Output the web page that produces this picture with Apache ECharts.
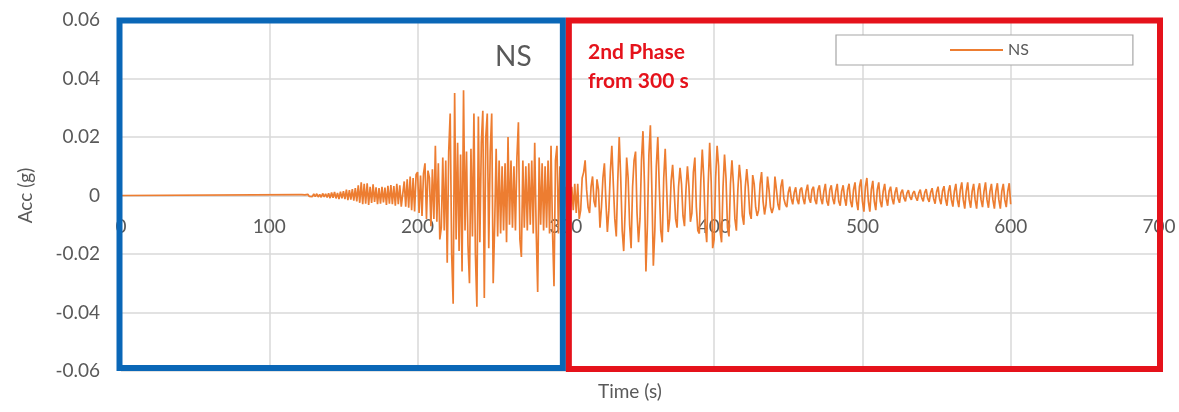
<!DOCTYPE html>
<html>
<head>
<meta charset="utf-8">
<script src="https://cdn.jsdelivr.net/npm/echarts@6/dist/echarts.min.js"></script>
<style>
html,body{margin:0;padding:0;background:#fff;}
#chart{width:1179px;height:412px;}
</style>
</head>
<body>
<div id="chart"></div>
<script>
// ---- data ----
const seriesName = 'NS';
const xTicks = [0, 100, 200, 300, 400, 500, 600, 700];
const yTicks = [-0.06, -0.04, -0.02, 0, 0.02, 0.04, 0.06];
const leadTimes = [0];
const leadAcc = [0];
const t0 = 120;   // start of sampled record (s)
const dt = 1;     // sample step (s)
const acc = [
 .0003,-.0002,.0003,-.0003,.0002,-.0003,.0004,-.0003,.0003,-.0004,
 .0005,-.0004,.0006,-.0005,.0004,-.0006,.0007,-.0005,.0006,-.0007,
 .0008,-.0009,.001,-.0008,.0012,-.001,.0009,-.0012,.0013,-.001,
 .0015,-.0012,.002,-.0016,.0018,-.0014,.0022,-.0018,.0025,-.002,
 .0035,-.0025,.0045,-.003,.004,-.0028,.0042,-.0032,.003,-.0025,
 .0038,-.0022,.0028,-.003,.0025,-.0028,.003,-.0024,.0027,-.0032,
 .0033,-.0028,.0036,-.003,.0032,-.0035,.004,-.003,.0035,-.0038,
 -.004,.0048,-.0038,.0055,-.0042,.0065,-.005,.006,-.0055,.0072,
 .008,-.006,.0068,-.007,.0075,.011,-.008,.0085,.006,-.0105,
 .009,-.008,.017,-.009,.011,-.015,-.011,.013,-.012,.012,
 -.023,.015,.028,-.02,-.037,.035,-.015,.018,-.019,.014,
 -.026,.036,-.012,.015,-.017,-.030,.016,-.014,.028,-.02,
 -.038,.027,-.016,.018,.029,-.035,.02,.028,-.018,.015,
 .028,-.030,-.01,.016,-.014,.012,-.013,.01,-.012,.011,
 -.016,.020,-.01,.012,-.011,.01,-.012,.013,.025,-.015,
 -.021,.012,-.011,.01,-.012,.011,-.01,.012,-.013,.018,
 -.012,-.033,.013,-.01,.011,-.012,.01,-.011,.012,-.013,
 .017,-.012,-.031,.012,.017,-.013,.01,-.009,.006,-.004,
 .003,-.004,.005,-.004,.003,-.005,.004,-.006,.004,-.008,
 -.005,.006,.008,.012,.002,-.004,-.006,.003,.0065,-.002,
 -.004,.0055,.002,-.011,-.004,.006,.011,-.002,-.0125,-.005,
 .008,.017,.004,-.008,-.014,.005,.020,.006,-.012,-.019,
 -.005,.013,.006,-.01,-.018,.003,.012,.015,-.006,-.016,
 -.008,.012,.022,.004,-.026,-.01,.014,.024,.002,-.024,
 -.012,.01,.020,.003,-.012,-.016,.006,.016,.002,-.0125,
 -.008,.005,.0105,.002,-.008,-.011,.003,.0095,.004,-.007,
 -.0105,.002,.010,.003,-.009,-.006,.008,.013,-.004,-.012,
 -.013,.005,.0157,.006,-.01,-.016,.004,.018,.005,-.018,
 -.015,.006,.017,.01,-.012,-.016,.003,.014,.006,-.011,
 -.014,.004,.012,.004,-.008,-.012,.002,.0105,.005,-.007,
 -.010,.003,.009,.003,-.006,-.008,.007,.004,-.004,-.007,
 -.005,.004,.008,-.002,-.0065,-.003,.0065,.002,-.004,-.006,
 -.004,.0065,.002,-.003,-.005,.003,.0055,-.001,-.003,-.004,
 .001,.003,-.001,-.003,.001,.0028,-.0015,-.003,.002,.0027,
 -.001,-.003,.0015,.0037,-.001,-.0025,.002,.003,-.0015,-.003,
 .002,.0035,-.001,-.003,.0015,.004,-.002,-.0035,.002,.0035,
 -.001,-.003,.0015,.004,-.002,-.0035,.0015,.0035,-.001,-.0035,
 .002,.004,-.002,-.004,.002,.0045,-.002,-.005,.003,.0055,
 -.002,-.0055,.003,.006,-.002,-.0055,.002,.005,-.002,-.005,
 .002,.0045,-.002,-.004,.0015,.004,-.001,-.0035,.0015,.003,
 -.001,-.003,.001,.0028,-.001,-.0025,.001,.002,-.0008,-.002,
 .0008,.0018,-.0005,-.0015,.0008,.0015,-.0006,-.0018,.0008,.002,
 -.0008,-.002,.001,.0022,-.001,-.0022,.001,.0025,-.001,-.0028,
 .0012,.003,-.0012,-.003,.0015,.0032,-.0012,-.0035,.0015,.0035,
 -.0015,-.0038,.0015,.004,-.0015,-.004,.002,.0045,-.0015,-.0045,
 .0015,.0045,-.0015,-.0042,.0015,.004,-.0015,-.0045,.002,.0042,
 -.0015,-.004,.0015,.0045,-.0015,-.0042,.0015,.004,-.0015,-.0045,
 .0015,.0042,-.0015,-.0045,.0015,.004,-.0015,-.004,.0015,.0042,
 -.003
];
const textNS = 'NS';
const textPhase = ['2nd Phase', 'from 300 s'];
const xTitle = 'Time (s)';
const yTitle = 'Acc (g)';

// ---- build ----
const seriesData = leadTimes.map((t, i) => [t, leadAcc[i]])
  .concat(acc.map((v, i) => [t0 + i * dt, v]));

const FONT = 'Lato, "Open Sans", sans-serif';
const GREY = '#595959';
const GRID = { left: 121, right: 20, top: 20, bottom: 41 };
const chartH = 412;
const gridH = chartH - GRID.top - GRID.bottom;
const chart = echarts.init(document.getElementById('chart'));
chart.setOption({
  animation: false,
  backgroundColor: '#fff',
  grid: Object.assign({ containLabel: false, outerBoundsMode: 'none' }, GRID),
  xAxis: {
    type: 'value', min: xTicks[0], max: xTicks[xTicks.length - 1], interval: 100,
    position: 'bottom', offset: -gridH / 2,
    axisLine: { onZero: false, lineStyle: { color: '#D9D9D9', width: 1.5 } },
    axisTick: { show: false },
    axisLabel: { color: GREY, fontSize: 19, fontFamily: FONT, margin: 22 },
    splitLine: { show: true, lineStyle: { color: '#D9D9D9', width: 1.5 } }
  },
  yAxis: {
    type: 'value', min: yTicks[0], max: yTicks[yTicks.length - 1], interval: 0.02,
    name: yTitle, nameLocation: 'middle', nameGap: 86, nameRotate: 90,
    nameTextStyle: { color: GREY, fontSize: 19, fontFamily: FONT },
    axisLine: { show: false }, axisTick: { show: false },
    axisLabel: { color: GREY, fontSize: 19, fontFamily: FONT, margin: 21,
      formatter: v => Math.abs(v) < 1e-9 ? '0' : v.toFixed(2) },
    splitLine: { show: true, lineStyle: { color: '#D9D9D9', width: 1.5 } }
  },
  legend: {
    left: 836, top: 35, orient: 'horizontal',
    padding: [7, 104, 7, 114],
    borderColor: '#A6A6A6', borderWidth: 1.2, backgroundColor: '#fff',
    itemWidth: 53, itemHeight: 14, itemGap: 4,
    textStyle: { color: GREY, fontSize: 16, fontFamily: FONT },
    data: [{ name: seriesName, icon: 'path://M0,6 L53,6 L53,8 L0,8 Z' }]
  },
  series: [{
    name: seriesName, type: 'line', data: seriesData,
    showSymbol: false, symbol: 'none',
    lineStyle: { color: '#ED7D31', width: 1.7 },
    itemStyle: { color: '#ED7D31' },
    z: 3
  }]
});

function px(x, y) { return chart.convertToPixel({ gridIndex: 0 }, [x, y]); }
const pTL = px(xTicks[0], yTicks[yTicks.length - 1]);
const pMid = px(300, yTicks[0]);
const pEnd = px(xTicks[xTicks.length - 1], yTicks[0]);
const BW = 6;
chart.setOption({
  graphic: [
    { type: 'rect', z: 100,
      shape: { x: pTL[0] - 1.5, y: pTL[1] + 0.5, width: (pMid[0] - 3) - (pTL[0] - 1.5), height: (pMid[1] - 3) - (pTL[1] + 0.5) },
      style: { fill: 'none', stroke: '#0A67B7', lineWidth: BW } },
    { type: 'rect', z: 100,
      shape: { x: pMid[0] + 3, y: pTL[1] + 0.5, width: (pEnd[0] + 1) - (pMid[0] + 3), height: (pEnd[1] - 2) - (pTL[1] + 0.5) },
      style: { fill: 'none', stroke: '#E5121B', lineWidth: BW } },
    { type: 'text', z: 101, left: 495, top: 43,
      style: { text: textNS, fill: GREY, font: '28px ' + FONT } },
    { type: 'text', z: 101, left: 588, top: 38,
      style: { text: textPhase.join('\n'), fill: '#E5121B', font: 'bold 21px ' + FONT, lineHeight: 29 } },
    { type: 'text', z: 101, left: 598, top: 382,
      style: { text: xTitle, fill: GREY, font: '19px ' + FONT } }
  ]
});
</script>
</body>
</html>
